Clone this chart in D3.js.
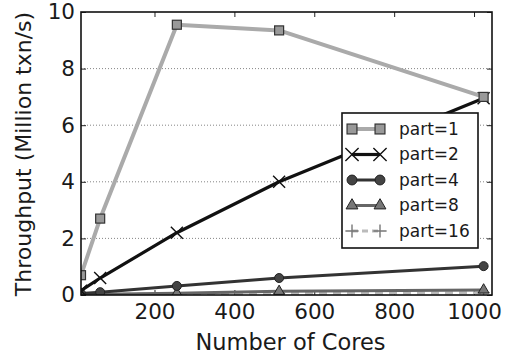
<!DOCTYPE html>
<html>
<head>
<meta charset="utf-8">
<script src="https://cdn.jsdelivr.net/npm/d3@7"></script>
<style>
  body { margin: 0; background: #fff; }
  svg { font-family: "DejaVu Sans", sans-serif; }
</style>
</head>
<body>
<svg id="chart" width="507" height="356"></svg>
<script>
// data
var cores = [16, 64, 256, 512, 1024];
var part1 = [0.7, 2.7, 9.55, 9.35, 7.0];
var part2 = [0.15, 0.6, 2.2, 4.0, 6.95];
var part4 = [0.05, 0.1, 0.32, 0.6, 1.02];
var part8 = [0.02, 0.03, 0.06, 0.13, 0.18];
var part16 = [0.01, 0.02, 0.03, 0.05, 0.08];
var seriesNames = ["part=1", "part=2", "part=4", "part=8", "part=16"];
var xTicks = [200, 400, 600, 800, 1000];
var yTicks = [0, 2, 4, 6, 8, 10];

var svg = d3.select("#chart"),
  margin = {top: 12, right: 15, bottom: 61, left: 81},
  width = 507 - margin.left - margin.right,
  height = 356 - margin.top - margin.bottom,
  g = svg.append("g").attr("transform", "translate(" + margin.left + "," + margin.top + ")");

var x = d3.scaleLinear().domain([16, 1045]).range([0, width]);
var y = d3.scaleLinear().domain([0, 10]).range([height, 0]);

// grid
g.selectAll(".grid").data([2, 4, 6, 8]).enter().append("line")
  .attr("x1", 0).attr("x2", width)
  .attr("y1", function(d) { return y(d); }).attr("y2", function(d) { return y(d); })
  .attr("stroke", "#666").attr("stroke-width", 0.8).attr("stroke-dasharray", "1,2");

// axes
var xa = g.append("g").attr("transform", "translate(0," + height + ")")
  .call(d3.axisBottom(x).tickValues(xTicks).tickSize(-5).tickPadding(9).tickFormat(d3.format("d")));
var ya = g.append("g")
  .call(d3.axisLeft(y).tickValues(yTicks).tickSize(-5).tickPadding(6));
g.append("g").call(d3.axisTop(x).tickValues(xTicks).tickSize(-5).tickFormat(""));
g.append("g").attr("transform", "translate(" + width + ",0)")
  .call(d3.axisRight(y).tickValues(yTicks).tickSize(-5).tickFormat(""));
g.selectAll(".domain").remove();
g.selectAll(".tick line").attr("stroke", "#222").attr("stroke-width", 1);
[xa, ya].forEach(function(a) {
  a.selectAll("text").attr("font-size", 21.5).attr("fill", "#1a1a1a")
    .attr("font-family", "DejaVu Sans, sans-serif");
});

function markerPath(type, s) {
  if (type == "x") return "M" + (-s) + "," + (-s) + "L" + s + "," + s + "M" + (-s) + "," + s + "L" + s + "," + (-s);
  if (type == "plus") return "M" + (-s) + ",0L" + s + ",0M0," + (-s) + "L0," + s;
  return null;
}

var styles = [
  {data: part1, color: "#aaa", width: 4, marker: "square", mfill: "#999", mstroke: "#333", dash: null},
  {data: part2, color: "#111", width: 3.2, marker: "x", mfill: "none", mstroke: "#111", dash: null},
  {data: part4, color: "#333", width: 3, marker: "circle", mfill: "#444", mstroke: "#222", dash: null},
  {data: part8, color: "#666", width: 3, marker: "triangle", mfill: "#777", mstroke: "#222", dash: null},
  {data: part16, color: "#bbb", width: 3, marker: "plus", mfill: "none", mstroke: "#777", dash: "8,6"}
];

function drawMarker(sel, st, px, py, k) {
  if (st.marker == "square") {
    sel.append("rect").attr("x", px - 4.5 * k).attr("y", py - 4.5 * k).attr("width", 9 * k).attr("height", 9 * k)
      .attr("fill", st.mfill).attr("stroke", st.mstroke).attr("stroke-width", 1.2);
  } else if (st.marker == "circle") {
    sel.append("circle").attr("cx", px).attr("cy", py).attr("r", 4.5 * k)
      .attr("fill", st.mfill).attr("stroke", st.mstroke).attr("stroke-width", 1);
  } else if (st.marker == "triangle") {
    sel.append("path").attr("d", d3.symbol().type(d3.symbolTriangle).size(50 * k * k)())
      .attr("transform", "translate(" + px + "," + py + ")")
      .attr("fill", st.mfill).attr("stroke", st.mstroke).attr("stroke-width", 1);
  } else {
    sel.append("path").attr("d", markerPath(st.marker, 6 * k))
      .attr("transform", "translate(" + px + "," + py + ")")
      .attr("fill", "none").attr("stroke", st.mstroke).attr("stroke-width", 1.4);
  }
}

var clip = svg.append("clipPath").attr("id", "clip").append("rect")
  .attr("x", 0).attr("y", -2).attr("width", width + 10).attr("height", height + 2);
var plot = g.append("g").attr("clip-path", "url(#clip)");

var line = d3.line()
  .x(function(d, i) { return x(cores[i]); })
  .y(function(d) { return y(d); });

for (var i = styles.length - 1; i >= 0; i--) {
  var st = styles[i];
  plot.append("path").datum(st.data)
    .attr("fill", "none")
    .attr("stroke", st.color)
    .attr("stroke-width", st.width)
    .attr("stroke-linejoin", "round")
    .attr("stroke-dasharray", st.dash)
    .attr("d", line);
  for (var j = 0; j < st.data.length; j++) {
    drawMarker(plot, st, x(cores[j]), y(st.data[j]), 1);
  }
}

// frame
g.append("rect").attr("width", width).attr("height", height)
  .attr("fill", "none").attr("stroke", "#111").attr("stroke-width", 1.6);

// legend
var leg = g.append("g").attr("transform", "translate(" + (342 - margin.left) + "," + (113 - margin.top) + ")");
leg.append("rect").attr("width", 136).attr("height", 135)
  .attr("fill", "#fff").attr("stroke", "#111").attr("stroke-width", 1.6);
for (var i = 0; i < styles.length; i++) {
  var st = styles[i], ly = 16 + i * 25.5;
  leg.append("line").attr("x1", 10).attr("x2", 38).attr("y1", ly).attr("y2", ly)
    .attr("stroke", st.color).attr("stroke-width", st.width)
    .attr("stroke-dasharray", st.dash ? "6,4" : null);
  drawMarker(leg, st, 10, ly, 1.1);
  drawMarker(leg, st, 38, ly, 1.1);
  leg.append("text").attr("x", 57).attr("y", ly).attr("dy", "0.35em")
    .attr("font-size", 17).attr("fill", "#1a1a1a").text(seriesNames[i]);
}

// axis labels
svg.append("text").attr("x", margin.left + width / 2 + 4).attr("y", 350)
  .attr("text-anchor", "middle").attr("font-size", 22.5).attr("fill", "#1a1a1a")
  .text("Number of Cores");
svg.append("text").attr("transform", "translate(31," + 154 + ") rotate(-90)")
  .attr("text-anchor", "middle").attr("font-size", 22).attr("fill", "#1a1a1a")
  .text("Throughput (Million txn/s)");
</script>
</body>
</html>
